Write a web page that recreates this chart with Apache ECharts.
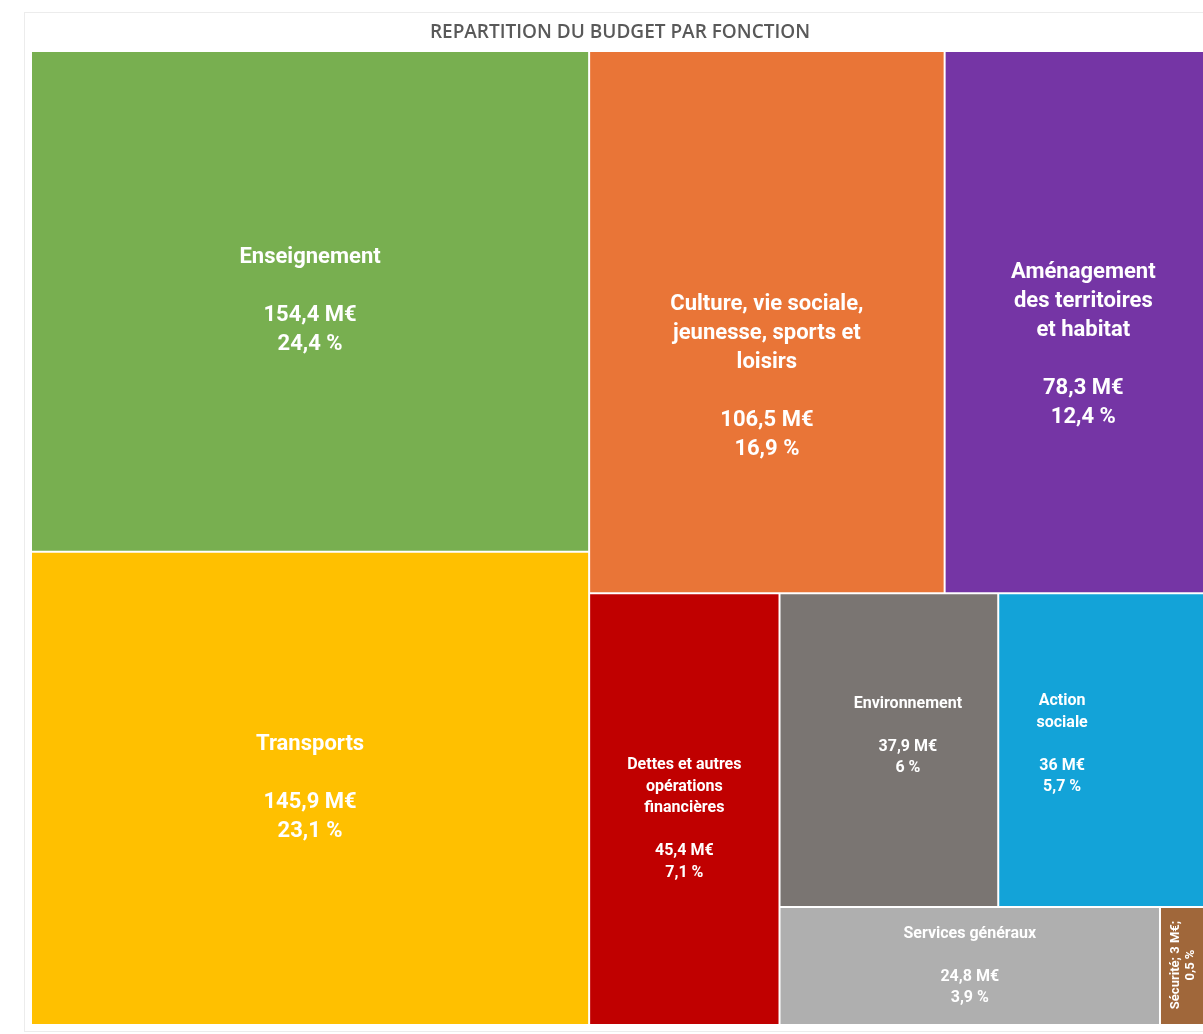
<!DOCTYPE html>
<html>
<head>
<meta charset="utf-8">
<script src="https://cdn.jsdelivr.net/npm/echarts@6/dist/echarts.min.js"></script>
<style>
  html, body { margin: 0; padding: 0; background: #fff; overflow: hidden; }
  #frame { position: absolute; left: 24px; top: 12px; width: 1192px; height: 1018px; border: 1px solid #ececec; }
  #main { position: absolute; left: 0; top: 0; width: 1240px; height: 1034px; }
</style>
</head>
<body>
<div id="frame"></div>
<div id="main"></div>
<script>
  // budget split by function (M€ and share of total, as printed on the chart)
  var categories = [
    'Enseignement',
    'Transports',
    'Culture, vie sociale,\njeunesse, sports et\nloisirs',
    'Aménagement\ndes territoires\net habitat',
    'Dettes et autres\nopérations\nfinancières',
    'Environnement',
    'Action\nsociale',
    'Services généraux',
    'Sécurité'
  ];
  var amounts = [154.4, 145.9, 106.5, 78.3, 45.4, 37.9, 36, 24.8, 3];
  var shares = [24.4, 23.1, 16.9, 12.4, 7.1, 6, 5.7, 3.9, 0.5];

  // how deep each item sits in the (invisible) grouping used to get the excel layout
  var nesting = [0, 0, 0, 0, 1, 2, 2, 2, 2];

  var colors = ['#78AF50', '#FFC000', '#E97537', '#7535A5', '#C00000', '#7A7572', '#13A3D8', '#AFAFAF', '#A0673A'];
  var labelNudge = {
    2: [0, 55],
    3: [8, 23],
    4: [0, 10],
    5: [19, -14],
    6: [-40, -6]
  };

  function fmt(n) {
    return String(n).replace('.', ',');
  }

  function makeLeaf(i) {
    var big = i < 4;
    var item = {
      name: categories[i],
      value: amounts[i],
      share: shares[i],
      itemStyle: { color: colors[i] },
      label: {
        fontSize: big ? 22 : 16,
        lineHeight: big ? 29 : 21.5,
        offset: labelNudge[i] || [0, 0]
      }
    };
    if (i === 8) {
      item.label = { fontSize: 13, lineHeight: 15, rotate: 90, overflow: 'none', offset: [1, 0] };
    }
    return item;
  }

  // build nested data: items with deeper nesting go in child groups
  function build(from, depth) {
    var out = [];
    var i = from;
    while (i < categories.length && nesting[i] >= depth) {
      if (nesting[i] === depth) {
        out.push(makeLeaf(i));
        i++;
      } else {
        var sub = build(i, depth + 1);
        out.push({ name: 'grp' + depth, children: sub.items });
        i = sub.next;
      }
    }
    return { items: out, next: i };
  }

  var treeData = build(0, 0).items;

  var chart = echarts.init(document.getElementById('main'));
  var option = {
    animation: false,
    title: {
      text: 'REPARTITION DU BUDGET PAR FONCTION',
      left: 'center',
      top: 23,
      padding: 0,
      textStyle: {
        fontFamily: 'Open Sans',
        fontSize: 19,
        fontWeight: 600,
        color: '#595959'
      }
    },
    series: [{
      type: 'treemap',
      left: 32,
      top: 52,
      width: 1173,
      height: 972,
      sort: false,
      squareRatio: 1.2,
      roam: false,
      nodeClick: false,
      silent: true,
      breadcrumb: { show: false },
      itemStyle: {
        borderWidth: 0,
        gapWidth: 2,
        borderColor: '#fff'
      },
      label: {
        show: true,
        position: 'inside',
        align: 'center',
        verticalAlign: 'middle',
        color: '#fff',
        fontFamily: 'Roboto',
        fontWeight: 'bold',
        formatter: function(p) {
          if (p.data.share === 0.5) {
            return p.name + '; ' + fmt(p.value) + ' M€;\n' + fmt(p.data.share) + ' %';
          }
          return p.name + '\n\n' + fmt(p.value) + ' M€\n' + fmt(p.data.share) + ' %';
        }
      },
      upperLabel: { show: false },
      data: treeData
    }]
  };
  chart.setOption(option);
</script>
</body>
</html>
